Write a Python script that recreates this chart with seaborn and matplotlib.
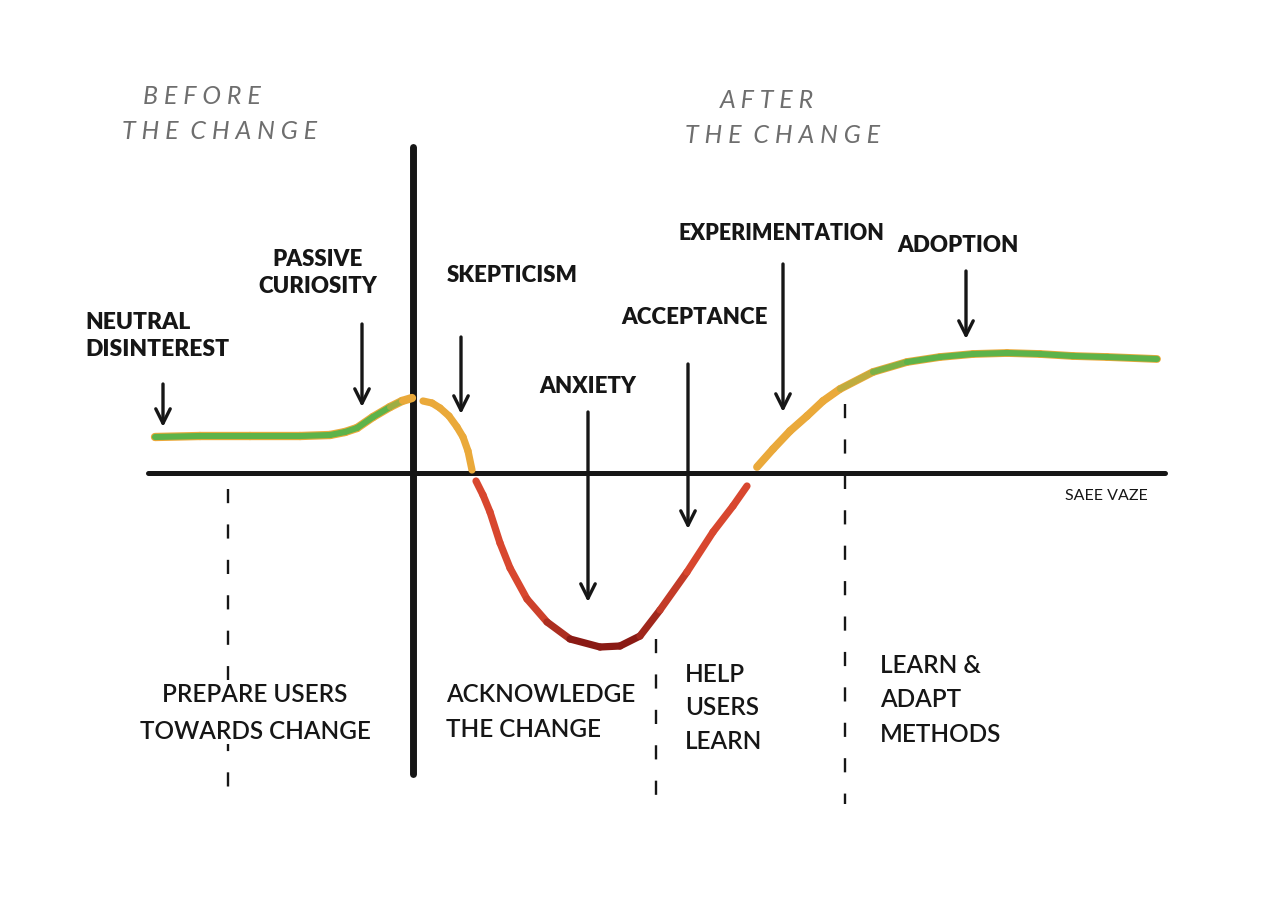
import numpy as np
import matplotlib
matplotlib.use("Agg")
import matplotlib.pyplot as plt
import seaborn as sns
from matplotlib.collections import LineCollection
from matplotlib.colors import LinearSegmentedColormap

# Curve: x = time, y = sentiment (0 = the baseline)
before_x = [155, 200, 250, 300, 330, 345, 357, 373, 390, 402, 412]
before_y = [36, 37, 37, 37, 38, 41, 45, 56, 66, 72, 75]

skeptic_x = [423, 432, 440, 449, 457, 463, 468, 472]
skeptic_y = [72, 70, 65, 57, 46, 36, 22, 3]

dip_x = [476, 483, 490, 500, 510, 527, 547, 570, 600, 620, 640, 660, 687, 713, 733, 747]
dip_y = [-8, -22, -39, -70, -95, -126, -149, -166, -174, -173, -163, -137, -99, -59, -33, -13]

rise_x = [757, 773, 790, 807, 823, 840, 873, 907, 940, 973, 1007, 1040, 1073, 1107, 1157]
rise_y = [6, 24, 42, 57, 72, 84, 101, 111, 116, 119, 120, 119, 117, 116, 114]

# Stage labels with arrows: label, x, arrow start y, arrow end y
stage_labels = ["NEUTRAL\nDISINTEREST", "PASSIVE\nCURIOSITY", "SKEPTICISM", "ANXIETY",
                "ACCEPTANCE", "EXPERIMENTATION", "ADOPTION"]
stage_arrow_x = [163, 362, 461, 588, 688, 783, 966]
stage_arrow_top = [89, 149, 136, 61, 109, 209, 202]
stage_arrow_tip = [46, 66, 59, -129, -56, 61, 134]

# Bottom phase labels
phase_labels = ["PREPARE USERS\nTOWARDS CHANGE", "ACKNOWLEDGE\nTHE CHANGE",
                "HELP\nUSERS\nLEARN", "LEARN &\nADAPT\nMETHODS"]

GREEN = "#5db34a"
ORANGE = "#eaa93a"
RED = "#d8472f"
DARK_RED = "#8a1a14"
INK = "#161616"
GREY = "#6e6e6e"

sns.set_theme(style="white")
plt.rcParams["font.family"] = ["Lato", "DejaVu Sans"]

fig = plt.figure(figsize=(12.8, 9.2), dpi=100)
ax = fig.add_axes([0, 0, 1, 1])
ax.set_xlim(0, 1280)
ax.set_ylim(474 - 920, 474)
ax.axis("off")


def gradient_line(xs, ys, colors, lw=5.2, z=4):
    pts = np.column_stack([xs, ys])
    segs = np.stack([pts[:-1], pts[1:]], axis=1)
    cmap = LinearSegmentedColormap.from_list("seg", colors)
    frac = np.linspace(0, 1, len(segs))
    lc = LineCollection(segs, colors=cmap(frac), linewidths=lw,
                        capstyle="round", joinstyle="round", zorder=z)
    ax.add_collection(lc)


# baseline and the "change" divider
sns.lineplot(x=[148, 1165], y=[0, 0], color=INK, lw=3.6, ax=ax, zorder=3)
ax.plot([413, 413], [326, -301], color=INK, lw=5.0, solid_capstyle="round", zorder=3)

# dashed phase separators
for dx, top, bot in [(228, -16, -331), (656, -166, -326), (845, 69, -331)]:
    ax.plot([dx, dx], [top, bot], color=INK, lw=1.7, ls=(0, (6, 9)), zorder=2)

# the curve
gradient_line(before_x, before_y, [ORANGE, ORANGE], lw=6.0, z=3)
gradient_line(before_x, before_y, [GREEN, GREEN, GREEN, GREEN, GREEN, ORANGE], lw=4.4)
gradient_line(skeptic_x, skeptic_y, [ORANGE, ORANGE])
gradient_line(dip_x, dip_y, [RED, RED, RED, DARK_RED, DARK_RED, RED, RED])
gradient_line(rise_x, rise_y, [ORANGE, ORANGE], lw=5.6, z=3)
gradient_line(rise_x, rise_y, [ORANGE, ORANGE, ORANGE, GREEN, GREEN, GREEN, GREEN], lw=4.4)

# stage arrows
for ax_x, top, tip in zip(stage_arrow_x, stage_arrow_top, stage_arrow_tip):
    ax.annotate("", xy=(ax_x, tip), xytext=(ax_x, top),
                arrowprops=dict(arrowstyle="->", lw=2.4, color=INK,
                                mutation_scale=26, shrinkA=0, shrinkB=0),
                zorder=5)

stage_pos = [(85, 138, "left", 16.5), (318, 201, "center", 16), (512, 198, "center", 16),
             (588, 87, "center", 16), (694, 156, "center", 16), (781, 240, "center", 15.5),
             (958, 228, "center", 16)]
for label, (tx, ty, ha, fs) in zip(stage_labels, stage_pos):
    ax.text(tx, ty, label, ha=ha, va="center", fontsize=fs, fontweight="heavy",
            color=INK, linespacing=1.4, zorder=6)

# heading text
head = dict(ha="left", va="center", fontsize=18, style="italic", color=GREY)
ax.text(143, 377, "B E F O R E", **head)
ax.text(122, 342, "T H E  C H A N G E", **head)
ax.text(720, 373, "A F T E R", **head)
ax.text(685, 338, "T H E  C H A N G E", **head)

# bottom phase labels
phase_pos = [(255, -239, "center", 1.75), (446, -238, "left", 1.6),
             (685, -234, "left", 1.55), (880, -226, "left", 1.6)]
for label, (tx, ty, ha, ls) in zip(phase_labels, phase_pos):
    ax.text(tx, ty, label, ha=ha, va="center", fontsize=17.5, fontweight="semibold",
            color=INK, linespacing=ls, zorder=6,
            bbox=dict(facecolor="white", edgecolor="none", pad=1.5))

ax.text(1106, -22, "SAEE VAZE", ha="center", va="center", fontsize=11.5,
        color=INK)

fig.savefig("out.png", dpi=100, facecolor="white")
